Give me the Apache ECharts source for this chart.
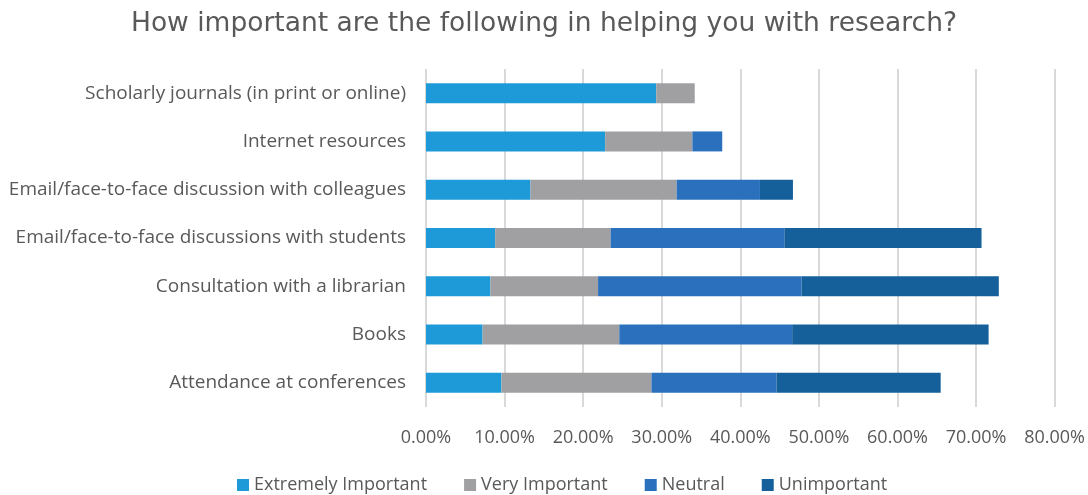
<!DOCTYPE html>
<html>
<head>
<meta charset="utf-8">
<script src="https://cdn.jsdelivr.net/npm/echarts@6/dist/echarts.min.js"></script>
<style>html,body{margin:0;padding:0;background:#fff;}#c{width:1088px;height:495px;}</style>
</head>
<body>
<div id="c"></div>
<script>
const categories = [
  "Scholarly journals (in print or online)",
  "Internet resources",
  "Email/face-to-face discussion with colleagues",
  "Email/face-to-face discussions with students",
  "Consultation with a librarian",
  "Books",
  "Attendance at conferences"
];
const extremelyImportant = [29.3, 22.8, 13.3, 8.8, 8.2, 7.2, 9.6];
const veryImportant = [4.9, 11.1, 18.6, 14.7, 13.7, 17.4, 19.1];
const neutral = [0, 3.8, 10.6, 22.1, 25.9, 22.0, 15.9];
const unimportant = [0, 0, 4.2, 25.1, 25.1, 25.0, 20.9];
const xTicks = [0, 10, 20, 30, 40, 50, 60, 70, 80];

const font = "'Open Sans', 'Noto Sans', sans-serif";
const chart = echarts.init(document.getElementById('c'));
const mk = (name, data, color) => ({
  name, type: 'bar', stack: 'total', data, barWidth: 20,
  itemStyle: { color }, emphasis: { disabled: true }
});
chart.setOption({
  animation: false,
  textStyle: { fontFamily: font },
  title: {
    text: 'How important are the following in helping you with research?',
    left: 'center', top: 6,
    textStyle: { fontFamily: "'DejaVu Sans', sans-serif", fontSize: 26.5, fontWeight: 'normal', color: '#595959' }
  },
  legend: {
    top: 471, left: 232, itemWidth: 12, itemHeight: 12, itemGap: 37,
    icon: 'rect',
    textStyle: { fontFamily: font, fontSize: 18, color: '#595959' }
  },
  grid: { left: 426, right: 33, top: 69, bottom: 88, containLabel: false },
  xAxis: {
    type: 'value', min: xTicks[0], max: xTicks[xTicks.length - 1], interval: 10,
    axisLine: { show: false }, axisTick: { show: false },
    splitLine: { show: true, lineStyle: { color: '#d9d9d9', width: 2 } },
    axisLabel: { fontFamily: font, fontSize: 18, color: '#595959', margin: 22,
      formatter: v => v.toFixed(2) + '%' }
  },
  yAxis: {
    type: 'category', data: categories, inverse: true,
    axisLine: { show: false }, axisTick: { show: false },
    axisLabel: { fontFamily: font, fontSize: 19, color: '#595959', margin: 20 }
  },
  series: [
    mk('Extremely Important', extremelyImportant, '#1f9ad8'),
    mk('Very Important', veryImportant, '#a0a0a3'),
    mk('Neutral', neutral, '#2a70bd'),
    mk('Unimportant', unimportant, '#15609a')
  ]
});
</script>
</body>
</html>
